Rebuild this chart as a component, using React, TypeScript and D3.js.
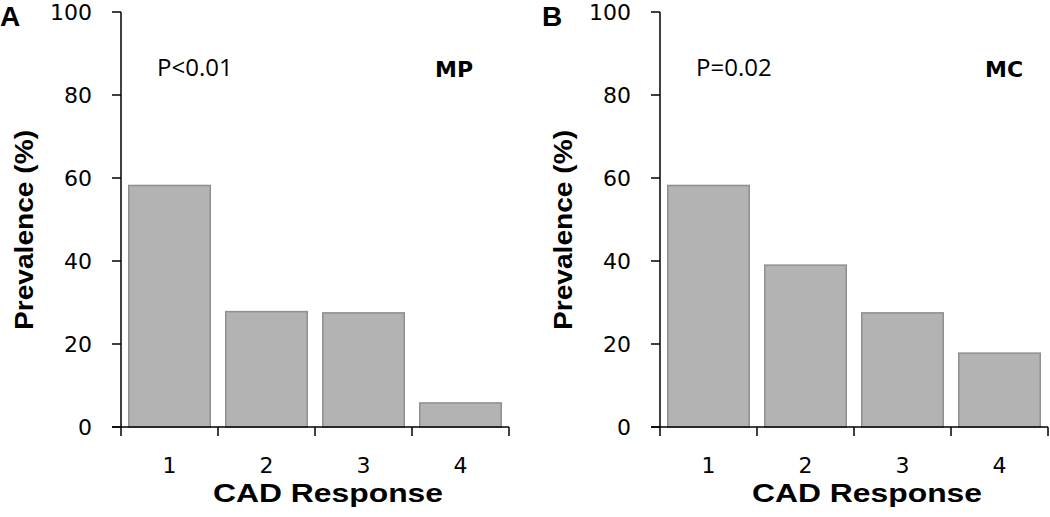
import React from "react";
import * as d3 from "d3";

const categories = ["1", "2", "3", "4"];
const mpValues = [58.2, 27.8, 27.5, 5.8];
const mcValues = [58.2, 39.0, 27.5, 17.8];
const yTicks = [0, 20, 40, 60, 80, 100];
const panels = [
  { letter: "A", pText: "P<0.01", tag: "MP", values: mpValues, dx: 0 },
  { letter: "B", pText: "P=0.02", tag: "MC", values: mcValues, dx: 539 },
];

const AX = 121;
const AXR = 509;
const Y0 = 427;
const Y100 = 12;

function Panel({ p }: { p: typeof panels[number] }) {
  const x = d3.scaleBand().domain(categories).range([AX, AXR]).paddingInner(0.16).paddingOuter(0.08);
  const y = d3.scaleLinear().domain([0, 100]).range([Y0, Y100]);
  const band = d3.scaleBand().domain(categories).range([AX, AXR]);
  const edges = [AX, ...categories.map((c) => (band(c) as number) + band.bandwidth())];
  const reg = "'Open Sans', 'Liberation Sans', sans-serif";
  const dj = "'DejaVu Sans', sans-serif";
  const bold = "'Liberation Sans', Arial, sans-serif";
  return (
    <g transform={`translate(${p.dx},0)`}>
      <text x={p.dx === 0 ? 0 : 3} y={26} fontFamily={bold} fontWeight="bold" fontSize={28}>{p.letter}</text>
      {p.values.map((v, i) => (
        <rect key={i} x={x(categories[i])} y={y(v)} width={x.bandwidth()} height={Y0 - y(v)}
          fill="#b3b3b3" stroke="#8f8f8f" strokeWidth={1.5} />
      ))}
      <line x1={AX} x2={AX} y1={Y100} y2={Y0} stroke="#000" strokeWidth={1.5} />
      <line x1={AX - 9} x2={AXR} y1={Y0} y2={Y0} stroke="#000" strokeWidth={1.5} />
      {yTicks.map((t) => (
        <g key={t}>
          <line x1={AX - 9} x2={AX} y1={y(t)} y2={y(t)} stroke="#000" strokeWidth={1.5} />
          <text x={AX - 29} y={y(t) + 8} textAnchor="end" fontFamily={dj} fontSize={22}>{t}</text>
        </g>
      ))}
      {edges.map((e, i) => (
        <line key={i} x1={e} x2={e} y1={Y0} y2={Y0 + 9} stroke="#000" strokeWidth={1.5} />
      ))}
      {categories.map((c) => (
        <text key={c} x={(band(c) as number) + band.bandwidth() / 2} y={473} textAnchor="middle" fontFamily={dj} fontSize={22}>{c}</text>
      ))}
      <text x={328} y={502} textAnchor="middle" fontFamily={bold} fontWeight="bold" fontSize={25}
        textLength={230} lengthAdjust="spacingAndGlyphs">CAD Response</text>
      <text transform={`translate(33,230) rotate(-90)`} textAnchor="middle" fontFamily={bold} fontWeight="bold" fontSize={25}
        textLength={200} lengthAdjust="spacingAndGlyphs">Prevalence (%)</text>
      <text x={157} y={76} fontFamily={reg} fontSize={24}>{p.pText}</text>
      <text x={p.dx === 0 ? 435 : 985 - p.dx} y={77} fontFamily={dj} fontWeight="bold" fontSize={22}>{p.tag}</text>
    </g>
  );
}

export default function App() {
  return (
    <svg width={1050} height={517} style={{ position: "absolute", left: 0, top: 0, background: "#fff" }}>
      {panels.map((p) => <Panel key={p.letter} p={p} />)}
    </svg>
  );
}
